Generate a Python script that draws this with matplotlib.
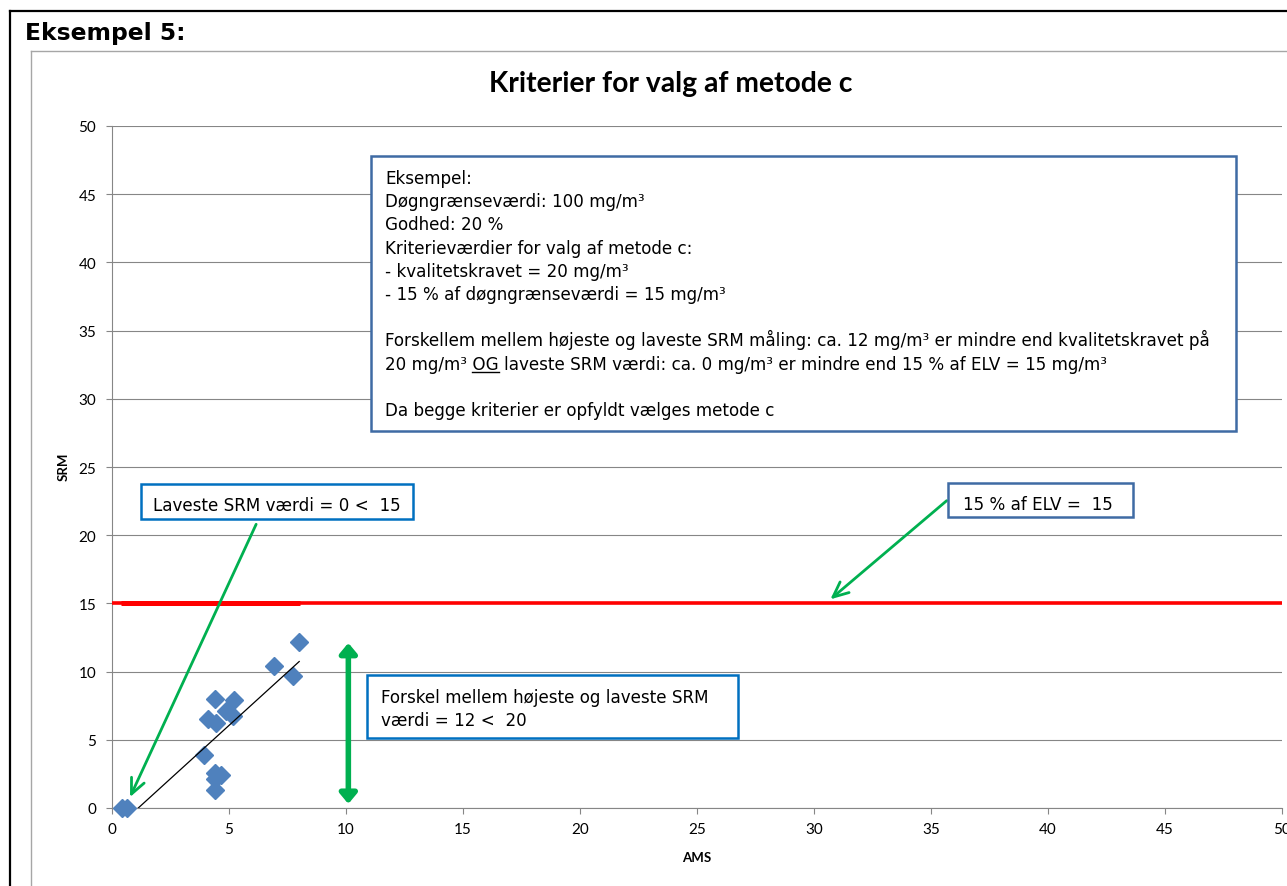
import numpy as np
import matplotlib
matplotlib.use('Agg')
import matplotlib.pyplot as plt
from matplotlib.patches import Rectangle, FancyArrowPatch
from matplotlib.lines import Line2D

# ---------------- data ----------------
AMS = [0.41, 0.63, 8.0, 6.91, 7.74, 4.42, 5.21, 4.87, 5.16, 4.10, 4.43, 3.95, 4.42, 4.66, 4.42, 4.42]
SRM = [0.0, 0.0, 12.2, 10.4, 9.66, 8.0, 7.9, 7.09, 6.72, 6.52, 6.23, 3.91, 2.57, 2.44, 2.13, 1.34]
elv_x_short = [0.38, 8.05]
elv_x_full = [0, 50]
elv_y = [15, 15]
x_ticks = list(range(0, 51, 5))
y_ticks = list(range(0, 51, 5))

title = "Kriterier for valg af metode c"
header = "Eksempel 5:"
x_label = "AMS"
y_label = "SRM"
box_lines = [
    "Eksempel:",
    "Døgngrænseværdi: 100 mg/m³",
    "Godhed: 20 %",
    "Kriterieværdier for valg af metode c:",
    "- kvalitetskravet = 20 mg/m³",
    "- 15 % af døgngrænseværdi = 15 mg/m³",
    "",
    "Forskellem mellem højeste og laveste SRM måling: ca. 12 mg/m³ er mindre end kvalitetskravet på",
    "20 mg/m³ OG laveste SRM værdi: ca. 0 mg/m³ er mindre end 15 % af ELV = 15 mg/m³",
    "",
    "Da begge kriterier er opfyldt vælges metode c",
]
lav_text = "Laveste SRM værdi = 0 <  15"
elv_text = "15 % af ELV =  15"
forskel_lines = ["Forskel mellem højeste og laveste SRM", "værdi = 12 <  20"]

# ---------------- figure ----------------
W, H = 1287, 887
plt.rcParams['font.family'] = ['Lato', 'DejaVu Sans']
fig = plt.figure(figsize=(W / 100, H / 100), dpi=100)
fig.patch.set_facecolor('white')
renderer = fig.canvas.get_renderer()


def fx(x):
    return x / W


def fy(y):
    return 1 - y / H


def fline(xs, ys, **kw):
    fig.add_artist(Line2D([fx(v) for v in xs], [fy(v) for v in ys],
                          transform=fig.transFigure, **kw))


def width_of(s, size, **kw):
    t = fig.text(0, 0, s, fontsize=size, **kw)
    w = t.get_window_extent(renderer).width
    t.remove()
    return w


def fit_size(s, width, **kw):
    return 10 * width / width_of(s, 10, **kw)


# outer frames
fline([10, 10], [12, 887], color='black', lw=1.6)
fline([10, 1287], [12, 12], color='black', lw=1.6)
fline([31, 31], [52, 887], color='#A6A6A6', lw=1.0)
fline([31, 1287], [52, 52], color='#A6A6A6', lw=1.0)

# header
hs = fit_size(header, 160, family='DejaVu Sans', weight='bold')
fig.text(fx(25), fy(40), header, fontsize=hs, family='DejaVu Sans',
         weight='bold', ha='left', va='baseline')

# title
ts = fit_size(title, 365, family='Lato', weight='bold')
fig.text(fx(670.5), fy(92), title, fontsize=ts, family='Lato',
         weight='bold', ha='center', va='baseline')

# ---------------- axes ----------------
ax = fig.add_axes([fx(112), fy(809), (1282 - 112) / W, (809 - 127) / H])
ax.set_xlim(0, 50)
ax.set_ylim(0, 50)
ax.set_xticks(x_ticks)
ax.set_yticks(y_ticks)
ax.tick_params(axis='both', direction='out', length=4.3, width=0.8,
               color='#868686', labelsize=11, labelcolor='black')
ax.tick_params(axis='y', pad=7)
ax.tick_params(axis='x', pad=6)
for side in ['top', 'right']:
    ax.spines[side].set_visible(False)
for side in ['left', 'bottom']:
    ax.spines[side].set_color('#868686')
    ax.spines[side].set_linewidth(0.8)
ax.yaxis.grid(True, color='#868686', lw=0.8)
ax.set_axisbelow(True)

# red ELV lines
ax.plot(elv_x_full, elv_y, color='#FF0000', lw=2.6, solid_capstyle='butt', zorder=3)
ax.plot(elv_x_short, elv_y, color='#FF0000', lw=3.6, solid_capstyle='butt', zorder=3)

# scatter
ax.plot(AMS, SRM, linestyle='none', marker='D', markersize=9.3,
        color='#4F81BD', markeredgecolor='#4F81BD', zorder=4, clip_on=False)

# linear trendline
slope, intercept = np.polyfit(AMS, SRM, 1)
tx = np.array([min(AMS), max(AMS)])
ax.plot(tx, slope * tx + intercept, color='black', lw=0.9, zorder=5)

# axis labels
fig.text(fx(697), fy(862), x_label, fontsize=9.5, family='Lato', weight='bold',
         ha='center', va='baseline')
fig.text(fx(64), fy(467), y_label, fontsize=9.5, family='Lato', weight='bold',
         ha='center', va='center', rotation=90)

green = '#00B050'
# arrows
a1 = FancyArrowPatch((6.16, 20.8), (0.77, 0.8),
                     arrowstyle='->,head_length=1.1,head_width=0.5',
                     mutation_scale=10, lw=2.0, color=green,
                     shrinkA=0, shrinkB=0, zorder=6)
ax.add_patch(a1)
a2 = FancyArrowPatch((35.67, 22.53), (30.7, 15.3),
                     arrowstyle='->,head_length=1.1,head_width=0.5',
                     mutation_scale=10, lw=2.0, color=green,
                     shrinkA=0, shrinkB=0, zorder=6)
ax.add_patch(a2)
a3 = FancyArrowPatch((10.1, 0.3), (10.1, 12.1),
                     arrowstyle='<|-|>,head_length=0.6,head_width=0.5',
                     mutation_scale=10, lw=4.0, color=green,
                     shrinkA=0, shrinkB=0, zorder=6, clip_on=False)
ax.add_patch(a3)


# ---------------- text boxes ----------------
def fbox(x0, y0, x1, y1, ec, lw=1.8):
    r = Rectangle((fx(x0), fy(y1)), (x1 - x0) / W, (y1 - y0) / H,
                  transform=fig.transFigure, facecolor='white',
                  edgecolor=ec, lw=lw, zorder=10)
    fig.add_artist(r)


box_font = 'DejaVu Sans'
bs = fit_size(box_lines[7], 1213 - 385, family=box_font)

fbox(371, 157, 1236, 432, '#3F6BA4')
base = 184.0
step = 23.2
for i, line in enumerate(box_lines):
    if not line:
        continue
    y = base + i * step
    fig.text(fx(385), fy(y), line, fontsize=bs, family=box_font,
             ha='left', va='baseline', zorder=11)
    if line.startswith("20 mg/m³ OG"):
        w_all = width_of("20 mg/m³ OG", bs, family=box_font)
        w_og = width_of("OG", bs, family=box_font)
        xs = 385 + w_all - w_og
        fline([xs, 385 + w_all], [y + 3, y + 3], color='black', lw=1.0, zorder=12)

fbox(141, 485, 413, 520, '#0070C0')
fig.text(fx(153), fy(511.5), lav_text, fontsize=bs, family=box_font,
         ha='left', va='baseline', zorder=11)

fbox(948, 484, 1133, 518, '#3F6BA4')
fig.text(fx(963), fy(510.5), elv_text, fontsize=bs, family=box_font,
         ha='left', va='baseline', zorder=11)

fbox(367, 676, 738, 739, '#0070C0')
fig.text(fx(381), fy(703.3), forskel_lines[0], fontsize=bs, family=box_font,
         ha='left', va='baseline', zorder=11)
fig.text(fx(381), fy(726.3), forskel_lines[1], fontsize=bs, family=box_font,
         ha='left', va='baseline', zorder=11)

fig.savefig('out.png', dpi=100, facecolor='white')
